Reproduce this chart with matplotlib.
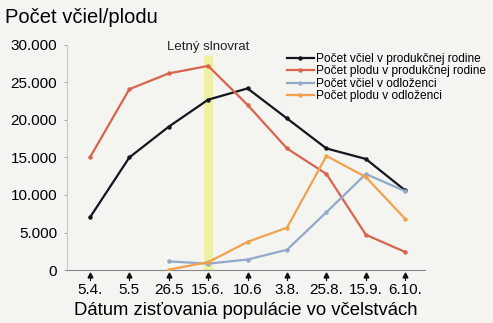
import matplotlib.pyplot as plt
from matplotlib.ticker import FuncFormatter, MultipleLocator

plt.rcParams['font.family'] = ['Liberation Sans', 'DejaVu Sans']

dates = ["5.4.", "5.5", "26.5", "15.6.", "10.6", "3.8.", "25.8.", "15.9.", "6.10."]
vcely_rodina = [7000, 15000, 19100, 22700, 24200, 20200, 16200, 14800, 10600]
plod_rodina = [15000, 24100, 26200, 27200, 22000, 16200, 12800, 4700, 2400]
vcely_odlozenec = [None, None, 1150, 850, 1400, 2700, 7700, 12800, 10500]
plod_odlozenec = [None, None, 50, 1050, 3750, 5650, 15200, 12400, 6800]
slnovrat = 3

bg = '#f4f4f1'
fig = plt.figure(figsize=(4.93, 3.23), dpi=100, facecolor=bg)
ax = fig.add_axes([0.136, 0.164, 0.726, 0.697], facecolor=bg)

x = list(range(len(dates)))

def pts(vals):
    xs = [i for i, v in zip(x, vals) if v is not None]
    ys = [v for v in vals if v is not None]
    return xs, ys

# summer solstice band
ax.plot([slnovrat, slnovrat], [0, 28600], color='#eff0a6', lw=6.5, solid_capstyle='butt', zorder=1)
ax.text(slnovrat, 29700, 'Letný slnovrat', ha='center', va='center', fontsize=9.5, color='#222222')

series = [
    (vcely_rodina, '#15151f', 'Počet včiel v produkčnej rodine'),
    (plod_rodina, '#d8644e', 'Počet plodu v produkčnej rodine'),
    (vcely_odlozenec, '#93a9c9', 'Počet včiel v odloženci'),
    (plod_odlozenec, '#f0a24e', 'Počet plodu v odloženci'),
]
for vals, col, lab in series:
    xs, ys = pts(vals)
    ax.plot(xs, ys, color=col, lw=1.6, marker='o', ms=2.2, label=lab, zorder=3)

ax.set_xlim(-0.58, 8.5)
ax.set_ylim(0, 30000)
ax.yaxis.set_major_locator(MultipleLocator(5000))
ax.yaxis.set_major_formatter(FuncFormatter(lambda v, p: f'{int(v):,}'.replace(',', '.')))
ax.tick_params(axis='y', labelsize=11, length=2, width=0.6, color='#999999', pad=5)
ax.set_xticks(x)
ax.set_xticklabels(dates)
ax.tick_params(axis='x', labelsize=11, length=0, pad=9)

# small arrow marks under each date
for i in x:
    ax.plot(i, -700, marker='^', ms=3.5, color='#111111', clip_on=False)
    ax.plot([i, i], [-700, -1300], color='#111111', lw=0.8, clip_on=False)

for s in ['top', 'right']:
    ax.spines[s].set_visible(False)
ax.spines['left'].set_color('#c8c8c8')
ax.spines['left'].set_linewidth(0.8)
ax.spines['bottom'].set_color('#888888')
ax.spines['bottom'].set_linestyle((0, (1, 1)))
ax.spines['bottom'].set_linewidth(0.8)

fig.text(0.010, 0.945, 'Počet včiel/plodu', fontsize=14.5, va='center', ha='left')
fig.text(0.499, 0.040, 'Dátum zisťovania populácie vo včelstvách', fontsize=13.3, ha='center', va='center')

ax.legend(loc='upper left', bbox_to_anchor=(0.60, 0.985), frameon=False, fontsize=8.6,
          handlelength=2.3, handletextpad=0.2, labelspacing=0.03, borderaxespad=0)

fig.savefig('out.png', dpi=100, facecolor=bg)
